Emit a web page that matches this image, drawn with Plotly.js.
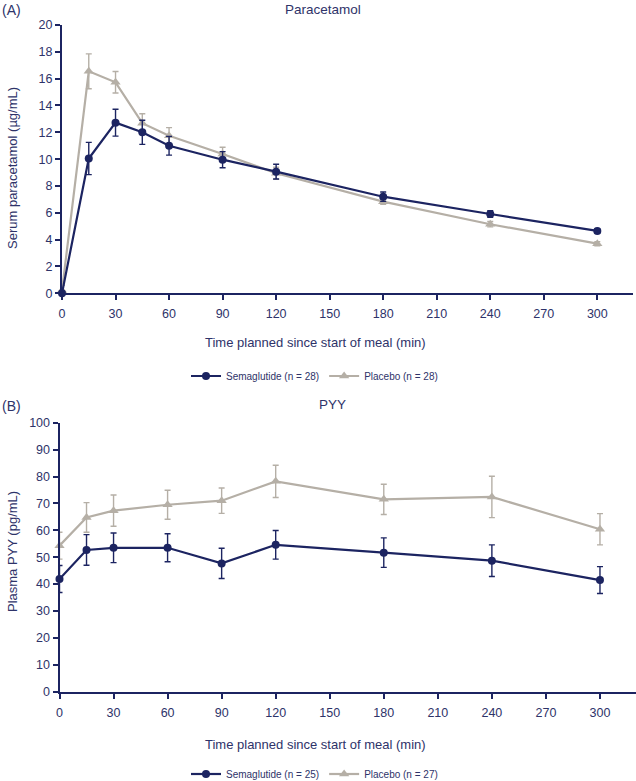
<!DOCTYPE html>
<html>
<head>
<meta charset="utf-8">
<script src="https://cdn.plot.ly/plotly-3.0.1.min.js"></script>
<style>html,body{margin:0;padding:0;background:#fff;}#chart{width:636px;height:781px;}</style>
</head>
<body>
<div id="chart"></div>
<script>
// ---- Data ----
const timesParacetamol = [0, 15, 30, 45, 60, 90, 120, 180, 240, 300];
const semaParacetamol = [0, 10.05, 12.72, 12.0, 11.0, 9.96, 9.07, 7.2, 5.91, 4.65];
const semaParacetamolErr = [0, 1.2, 1.0, 0.9, 0.7, 0.6, 0.55, 0.35, 0.25, 0.15];
const placeboParacetamol = [0.2, 16.55, 15.73, 12.68, 11.75, 10.39, 8.95, 6.83, 5.15, 3.7];
const placeboParacetamolErr = [0.4, 1.3, 0.8, 0.7, 0.6, 0.5, 0.45, 0.2, 0.2, 0.15];

const timesPYY = [0, 15, 30, 60, 90, 120, 180, 240, 300];
const semaPYY = [41.9, 52.7, 53.5, 53.5, 47.7, 54.6, 51.7, 48.7, 41.5];
const semaPYYErr = [5, 5.7, 5.5, 5.2, 5.6, 5.3, 5.5, 5.9, 5];
const placeboPYY = [54.3, 64.8, 67.3, 69.5, 71.0, 78.2, 71.5, 72.4, 60.4];
const placeboPYYErr = [5, 5.5, 5.8, 5.4, 4.7, 6.0, 5.6, 7.7, 5.8];

const xTicks = [0, 30, 60, 90, 120, 150, 180, 210, 240, 270, 300];
const legendTop = ['Semaglutide (n = 28)', 'Placebo (n = 28)'];
const legendBottom = ['Semaglutide (n = 25)', 'Placebo (n = 27)'];

// ---- Styles ----
const W = 636, H = 781;
const NAVY = '#1c2461';
const GREY = '#b5afa6';
const TXT = '#2e3369';
const FONT = 'Liberation Sans, Arial, sans-serif';

function px(x) { return x / W; }
function py(y) { return 1 - y / H; }

function series(x, y, err, name, color, symbol, size, xa, ya, legend, rank) {
  return {
    x: x, y: y, name: name, type: 'scatter', mode: 'lines+markers',
    xaxis: xa, yaxis: ya, legend: legend, legendrank: rank,
    line: {color: color, width: 2.2},
    marker: {color: color, symbol: symbol, size: size},
    error_y: {type: 'data', array: err, visible: true, color: color, thickness: 1.4, width: 3},
    cliponaxis: false
  };
}

const traces = [
  series(timesParacetamol, placeboParacetamol, placeboParacetamolErr, legendTop[1], GREY, 'triangle-up', 9, 'x', 'y', 'legend', 2),
  series(timesParacetamol, semaParacetamol, semaParacetamolErr, legendTop[0], NAVY, 'circle', 8, 'x', 'y', 'legend', 1),
  series(timesPYY, placeboPYY, placeboPYYErr, legendBottom[1], GREY, 'triangle-up', 9, 'x2', 'y2', 'legend2', 2),
  series(timesPYY, semaPYY, semaPYYErr, legendBottom[0], NAVY, 'circle', 8, 'x2', 'y2', 'legend2', 1)
];

function xAxis(domain, anchor) {
  return {
    domain: domain, anchor: anchor, range: [0, 320], tickvals: xTicks,
    showgrid: false, zeroline: false, showline: true, linecolor: NAVY, linewidth: 2,
    ticks: 'outside', ticklen: 5, tickwidth: 2, tickcolor: NAVY, ticklabelstandoff: 3,
    tickfont: {family: FONT, size: 12.5, color: TXT}, fixedrange: true
  };
}
function yAxis(domain, anchor, range, dtick) {
  return {
    domain: domain, anchor: anchor, range: range, dtick: dtick,
    showgrid: false, zeroline: false, showline: true, linecolor: NAVY, linewidth: 2,
    ticks: 'outside', ticklen: 5, tickwidth: 2, tickcolor: NAVY,
    tickfont: {family: FONT, size: 12.5, color: TXT}, fixedrange: true
  };
}

function ann(text, x, y, size, opts) {
  return Object.assign({
    text: text, x: px(x), y: py(y), xref: 'paper', yref: 'paper',
    showarrow: false, font: {family: FONT, size: size, color: TXT},
    xanchor: 'center', yanchor: 'middle'
  }, opts || {});
}

const layout = {
  width: W, height: H,
  margin: {l: 0, r: 0, t: 0, b: 0, autoexpand: false},
  paper_bgcolor: '#ffffff', plot_bgcolor: '#ffffff',
  font: {family: FONT, color: TXT},
  xaxis: xAxis([px(62), px(633)], 'y'),
  yaxis: yAxis([py(293.3), py(25)], 'x', [0, 20], 2),
  xaxis2: xAxis([px(59.5), 1], 'y2'),
  yaxis2: yAxis([py(691.7), py(422.7)], 'x2', [0, 100], 10),
  showlegend: true,
  legend: {
    orientation: 'h', x: px(186), y: py(376), xanchor: 'left', yanchor: 'middle',
    font: {family: FONT, size: 10, color: TXT}, itemwidth: 30, bgcolor: 'rgba(0,0,0,0)',
    traceorder: 'normal'
  },
  legend2: {
    orientation: 'h', x: px(186), y: py(774), xanchor: 'left', yanchor: 'middle',
    font: {family: FONT, size: 10, color: TXT}, itemwidth: 30, bgcolor: 'rgba(0,0,0,0)',
    traceorder: 'normal'
  },
  annotations: [
    ann('(A)', 0, 10, 14, {xanchor: 'left'}),
    ann('Paracetamol', 323, 10, 13.5),
    ann('Serum paracetamol (µg/mL)', 12, 168, 13, {textangle: -90}),
    ann('Time planned since start of meal (min)', 315, 343, 13),
    ann('(B)', 0, 406, 14, {xanchor: 'left'}),
    ann('PYY', 332, 404, 13.5),
    ann('Plasma PYY (pg/mL)', 12, 552, 13, {textangle: -90}),
    ann('Time planned since start of meal (min)', 315, 744, 13)
  ]
};

Plotly.newPlot('chart', traces, layout, {displayModeBar: false, staticPlot: true});
</script>
</body>
</html>
